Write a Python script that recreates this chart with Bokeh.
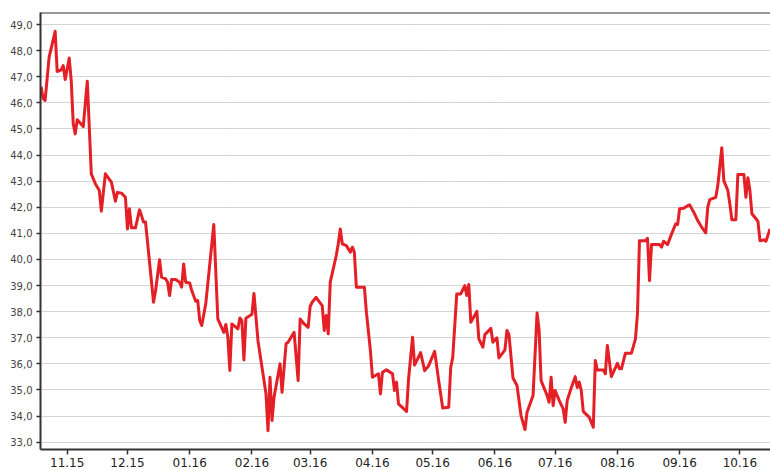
from datetime import datetime
import pandas as pd
from bokeh.plotting import figure
from bokeh.models import ColumnDataSource, Range1d, FixedTicker, Span
from bokeh.embed import file_html
from bokeh.resources import INLINE

dates = [
    "2015-10-19", "2015-10-20", "2015-10-21", "2015-10-23", "2015-10-26", "2015-10-27",
    "2015-10-29", "2015-10-30", "2015-10-31", "2015-11-02", "2015-11-03", "2015-11-04",
    "2015-11-05", "2015-11-06", "2015-11-09", "2015-11-11", "2015-11-13", "2015-11-15",
    "2015-11-17", "2015-11-18", "2015-11-20", "2015-11-23", "2015-11-25", "2015-11-26",
    "2015-11-28", "2015-11-30", "2015-12-01", "2015-12-02", "2015-12-03", "2015-12-05",
    "2015-12-07", "2015-12-08", "2015-12-09", "2015-12-10", "2015-12-14", "2015-12-15",
    "2015-12-17", "2015-12-18", "2015-12-20", "2015-12-21", "2015-12-22", "2015-12-23",
    "2015-12-25", "2015-12-27", "2015-12-28", "2015-12-29", "2015-12-30", "2016-01-01",
    "2016-01-02", "2016-01-04", "2016-01-05", "2016-01-06", "2016-01-07", "2016-01-09",
    "2016-01-13", "2016-01-15", "2016-01-18", "2016-01-19", "2016-01-20", "2016-01-21",
    "2016-01-22", "2016-01-25", "2016-01-26", "2016-01-27", "2016-01-28", "2016-01-29",
    "2016-02-01", "2016-02-02", "2016-02-04", "2016-02-06", "2016-02-08", "2016-02-09",
    "2016-02-10", "2016-02-11", "2016-02-12", "2016-02-15", "2016-02-16", "2016-02-18",
    "2016-02-19", "2016-02-22", "2016-02-24", "2016-02-25", "2016-02-27", "2016-02-29",
    "2016-03-01", "2016-03-02", "2016-03-04", "2016-03-05", "2016-03-07", "2016-03-08",
    "2016-03-09", "2016-03-10", "2016-03-11", "2016-03-14", "2016-03-15", "2016-03-16",
    "2016-03-17", "2016-03-19", "2016-03-21", "2016-03-22", "2016-03-23", "2016-03-24",
    "2016-03-28", "2016-03-29", "2016-03-31", "2016-04-01", "2016-04-04", "2016-04-05",
    "2016-04-06", "2016-04-08", "2016-04-11", "2016-04-12", "2016-04-13", "2016-04-14",
    "2016-04-18", "2016-04-19", "2016-04-21", "2016-04-22", "2016-04-25", "2016-04-27",
    "2016-04-29", "2016-05-02", "2016-05-04", "2016-05-06", "2016-05-09", "2016-05-10",
    "2016-05-11", "2016-05-13", "2016-05-15", "2016-05-17", "2016-05-18", "2016-05-19",
    "2016-05-20", "2016-05-23", "2016-05-24", "2016-05-26", "2016-05-27", "2016-05-30",
    "2016-05-31", "2016-06-02", "2016-06-03", "2016-06-06", "2016-06-07", "2016-06-08",
    "2016-06-10", "2016-06-12", "2016-06-14", "2016-06-16", "2016-06-17", "2016-06-20",
    "2016-06-22", "2016-06-23", "2016-06-24", "2016-06-27", "2016-06-28", "2016-06-29",
    "2016-06-30", "2016-07-01", "2016-07-03", "2016-07-05", "2016-07-06", "2016-07-07",
    "2016-07-09", "2016-07-11", "2016-07-12", "2016-07-13", "2016-07-14", "2016-07-15",
    "2016-07-18", "2016-07-20", "2016-07-21", "2016-07-22", "2016-07-25", "2016-07-26",
    "2016-07-27", "2016-07-29", "2016-08-01", "2016-08-02", "2016-08-03", "2016-08-05",
    "2016-08-08", "2016-08-10", "2016-08-11", "2016-08-12", "2016-08-15", "2016-08-16",
    "2016-08-17", "2016-08-18", "2016-08-22", "2016-08-23", "2016-08-24", "2016-08-26",
    "2016-08-28", "2016-08-30", "2016-08-31", "2016-09-01", "2016-09-03", "2016-09-05",
    "2016-09-06", "2016-09-08", "2016-09-10", "2016-09-12", "2016-09-14", "2016-09-15",
    "2016-09-16", "2016-09-19", "2016-09-20", "2016-09-22", "2016-09-23", "2016-09-25",
    "2016-09-26", "2016-09-27", "2016-09-29", "2016-09-30", "2016-10-03", "2016-10-04",
    "2016-10-05", "2016-10-06", "2016-10-07", "2016-10-09", "2016-10-10", "2016-10-11",
    "2016-10-13", "2016-10-14", "2016-10-16",
]

values = [
    46.62, 46.17, 46.09, 47.75, 48.74, 47.20,
    47.26, 47.43, 46.89, 47.72, 46.85, 45.20,
    44.81, 45.35, 45.09, 46.83, 43.28, 42.90,
    42.64, 41.85, 43.28, 42.96, 42.23, 42.57,
    42.54, 42.38, 41.17, 41.94, 41.21, 41.21,
    41.90, 41.68, 41.43, 41.43, 38.36, 38.80,
    39.99, 39.32, 39.26, 39.13, 38.62, 39.23,
    39.23, 39.13, 38.94, 39.83, 39.13, 39.10,
    38.81, 38.40, 38.43, 37.66, 37.47, 38.30,
    41.34, 37.72, 37.21, 37.51, 37.02, 35.75,
    37.53, 37.34, 37.76, 37.66, 36.15, 37.75,
    37.90, 38.70, 36.89, 35.87, 34.85, 33.44,
    35.49, 33.83, 34.72, 36.00, 34.91, 36.77,
    36.83, 37.21, 35.36, 37.72, 37.53, 37.40,
    38.20, 38.36, 38.55, 38.43, 38.23, 37.28,
    37.85, 37.15, 39.13, 40.15, 40.60, 41.17,
    40.60, 40.53, 40.28, 40.47, 40.28, 38.94,
    38.94, 37.98, 36.51, 35.49, 35.62, 34.85,
    35.68, 35.77, 35.62, 34.98, 35.30, 34.47,
    34.18, 35.42, 37.02, 35.95, 36.43, 35.74,
    35.93, 36.48, 35.36, 34.31, 34.34, 35.87,
    36.25, 38.68, 38.68, 39.00, 38.62, 39.04,
    37.59, 38.01, 36.96, 36.64, 37.12, 37.36,
    36.83, 37.00, 36.23, 36.54, 37.28, 37.12,
    35.46, 35.17, 34.02, 33.48, 34.15, 34.79,
    37.95, 37.30, 35.36, 34.79, 34.53, 35.49,
    34.40, 34.98, 34.60, 34.28, 33.76, 34.60,
    35.08, 35.51, 35.10, 35.30, 34.98, 34.18,
    33.95, 33.57, 36.13, 35.77, 35.77, 35.62,
    36.70, 35.51, 36.02, 35.81, 35.81, 36.41,
    36.41, 36.96, 37.92, 40.72, 40.72, 40.81,
    39.19, 40.57, 40.57, 40.47, 40.70, 40.57,
    40.98, 41.36, 41.34, 41.94, 41.96, 42.06,
    42.09, 41.81, 41.49, 41.23, 41.02, 42.00,
    42.29, 42.38, 42.83, 44.28, 43.02, 42.64,
    42.13, 41.52, 41.52, 43.25, 43.25, 42.38,
    43.13, 42.64, 41.75, 41.56, 41.46, 40.72,
    40.75, 40.70, 41.17,
]

month_ticks = ["2015-11-01", "2015-12-01", "2016-01-01", "2016-02-01", "2016-03-01",
               "2016-04-01", "2016-05-01", "2016-06-01", "2016-07-01", "2016-08-01",
               "2016-09-01", "2016-10-01"]
month_labels = ["11.15", "12.15", "01.16", "02.16", "03.16", "04.16",
                "05.16", "06.16", "07.16", "08.16", "09.16", "10.16"]
y_ticks = list(range(33, 50))
y_labels = ["%d,0" % v for v in y_ticks]

x_start = datetime(2015, 10, 18, 16, 48)
x_end = datetime(2016, 10, 16, 6, 0)
y_start, y_end = 32.72, 49.46


def to_ms(s):
    return int(pd.Timestamp(s).value // 10**6)


source = ColumnDataSource(data=dict(x=pd.to_datetime(dates), y=values))

p = figure(width=770, height=470, x_axis_type="datetime",
           x_range=Range1d(x_start, x_end), y_range=Range1d(y_start, y_end),
           output_backend="svg", toolbar_location=None,
           min_border_left=40, min_border_top=12, min_border_right=0,
           min_border_bottom=21)
p.outline_line_color = None
p.background_fill_color = "white"
p.border_fill_color = "white"

p.line("x", "y", source=source, line_color="#e41f26", line_width=3,
       line_join="round")

x_ms = [to_ms(s) for s in month_ticks]
p.xaxis.ticker = FixedTicker(ticks=x_ms)
p.xaxis.major_label_overrides = {m: lab for m, lab in zip(x_ms, month_labels)}
p.xaxis.minor_tick_line_color = None
p.xaxis.major_tick_in = 0
p.xaxis.major_tick_out = 5
p.xaxis.major_label_standoff = 3
p.xaxis.major_label_text_font = "DejaVu Sans"
p.xaxis.major_label_text_font_size = "12px"
p.xaxis.major_label_text_color = "#222222"

p.yaxis.ticker = FixedTicker(ticks=y_ticks)
p.yaxis.major_label_overrides = {v: lab for v, lab in zip(y_ticks, y_labels)}
p.yaxis.minor_tick_line_color = None
p.yaxis.major_tick_in = 0
p.yaxis.major_tick_out = 4
p.yaxis.major_label_standoff = 4
p.yaxis.major_label_text_font = "DejaVu Sans"
p.yaxis.major_label_text_font_size = "10px"
p.yaxis.major_label_text_color = "#444444"

for ax in (p.xaxis, p.yaxis):
    ax.axis_line_color = "#333333"
    ax.axis_line_width = 2
    ax.major_tick_line_color = "#333333"
    ax.major_tick_line_width = 1.5

p.xgrid.grid_line_color = None
p.ygrid.ticker = FixedTicker(ticks=y_ticks)
p.ygrid.grid_line_color = "#a8a8a8"
p.ygrid.grid_line_dash = "1 1"
p.ygrid.grid_line_width = 1

p.add_layout(Span(location=y_end, dimension="width", line_color="#333333",
                  line_width=2))

open("out.html", "w").write(file_html(p, INLINE))
